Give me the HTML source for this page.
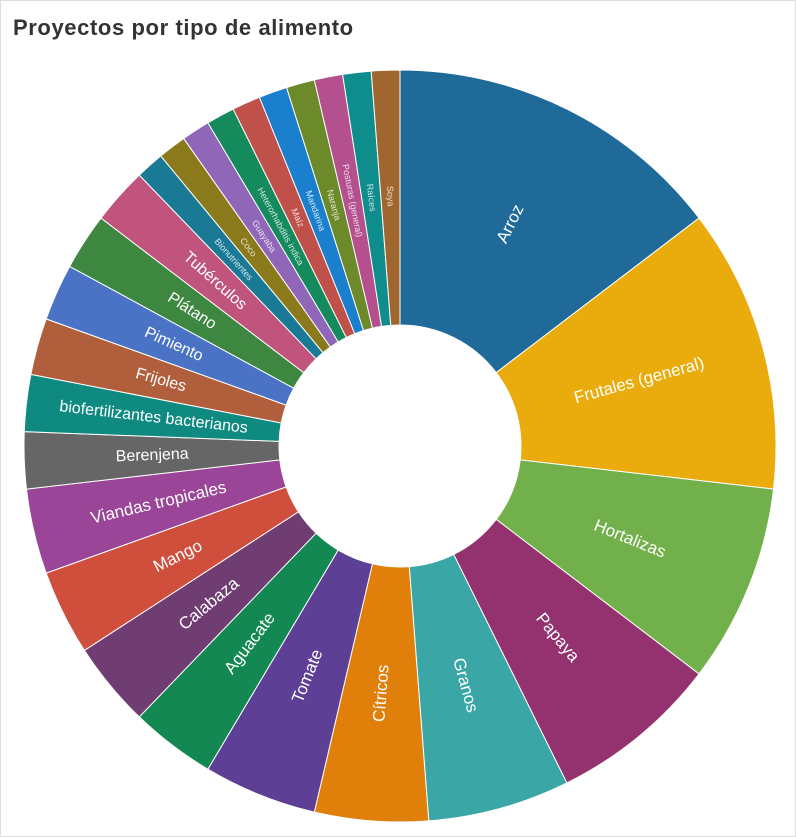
<!DOCTYPE html>
<html><head><meta charset="utf-8"><style>
html,body{margin:0;padding:0;background:#fff;}
#wrap{position:relative;width:794px;height:835px;border:1px solid #ddd;overflow:hidden;}
#title{position:absolute;left:12px;top:14px;font:bold 22px "Liberation Sans",sans-serif;letter-spacing:0.6px;color:#333;}
svg{position:absolute;left:0;top:0;}
</style></head><body>
<div id="wrap">
<div id="title">Proyectos por tipo de alimento</div>
<svg id="chart" width="796" height="837"></svg>
</div>
<script>
const categories=["Arroz","Frutales (general)","Hortalizas","Papaya","Granos","Cítricos","Tomate","Aguacate","Calabaza","Mango","Viandas tropicales","Berenjena","biofertilizantes bacterianos","Frijoles","Pimiento","Plátano","Tubérculos","Bionutrientes","Coco","Guayaba","Heterorhabditis indica","Maíz","Mandarina","Naranja","Posturas (general)","Raíces","Soya"];
const values=[12,10,7,6,5,4,4,3,3,3,3,2,2,2,2,2,2,1,1,1,1,1,1,1,1,1,1];
const colors=["#1f6a98","#e9ac0c","#72b04b","#93326f","#3aa6a5","#e07f0a","#5e3f96","#138853","#6f3d72","#cf4f3c","#9a4597","#666666","#0e8a80","#b05e3b","#4a73c6","#3d8740","#c0547d","#1a7a96","#8b7a1c","#8f66b8","#158b5d","#c0504a","#1a7fcc","#6d8a2a","#b5508f","#0f8c8c","#a0662f"];
const svg=document.getElementById('chart');
const NS='http://www.w3.org/2000/svg';
const cx=399,cy=445,R=376,r0=121;
const total=values.reduce((a,b)=>a+b,0);
function pt(a,rad){const t=a*Math.PI/180;return [cx+rad*Math.sin(t),cy-rad*Math.cos(t)];}
let acc=0;
values.forEach((v,i)=>{
  const a0=acc/total*360, a1=(acc+v)/total*360; acc+=v;
  const large=(a1-a0)>180?1:0;
  const p0=pt(a0,R),p1=pt(a1,R),q1=pt(a1,r0),q0=pt(a0,r0);
  const path=document.createElementNS(NS,'path');
  path.setAttribute('d',`M${p0[0]},${p0[1]}A${R},${R} 0 ${large} 1 ${p1[0]},${p1[1]}L${q1[0]},${q1[1]}A${r0},${r0} 0 ${large} 0 ${q0[0]},${q0[1]}Z`);
  path.setAttribute('fill',colors[i]);
  path.setAttribute('stroke','#fff');
  path.setAttribute('stroke-width','1');
  
  
  svg.appendChild(path);
  const mid=(a0+a1)/2;
  const small=v<2;
  const lr=small?250:248;
  const p=pt(mid,lr);
  const rot=mid<180?mid-90:mid-270;
  const t=document.createElementNS(NS,'text');
  t.setAttribute('x',p[0]);t.setAttribute('y',p[1]);
  t.setAttribute('text-anchor','middle');
  t.setAttribute('dominant-baseline','central');
  t.setAttribute('transform',`rotate(${rot} ${p[0]} ${p[1]})`);
  t.setAttribute('font-family','"Liberation Sans",sans-serif');
  t.setAttribute('font-size',small?9:(v>=3?17:16));
  t.setAttribute('fill',small?'rgba(255,255,255,0.8)':'#fff');
  t.textContent=categories[i];
  
  
  svg.appendChild(t);
});
</script>
</body></html>
